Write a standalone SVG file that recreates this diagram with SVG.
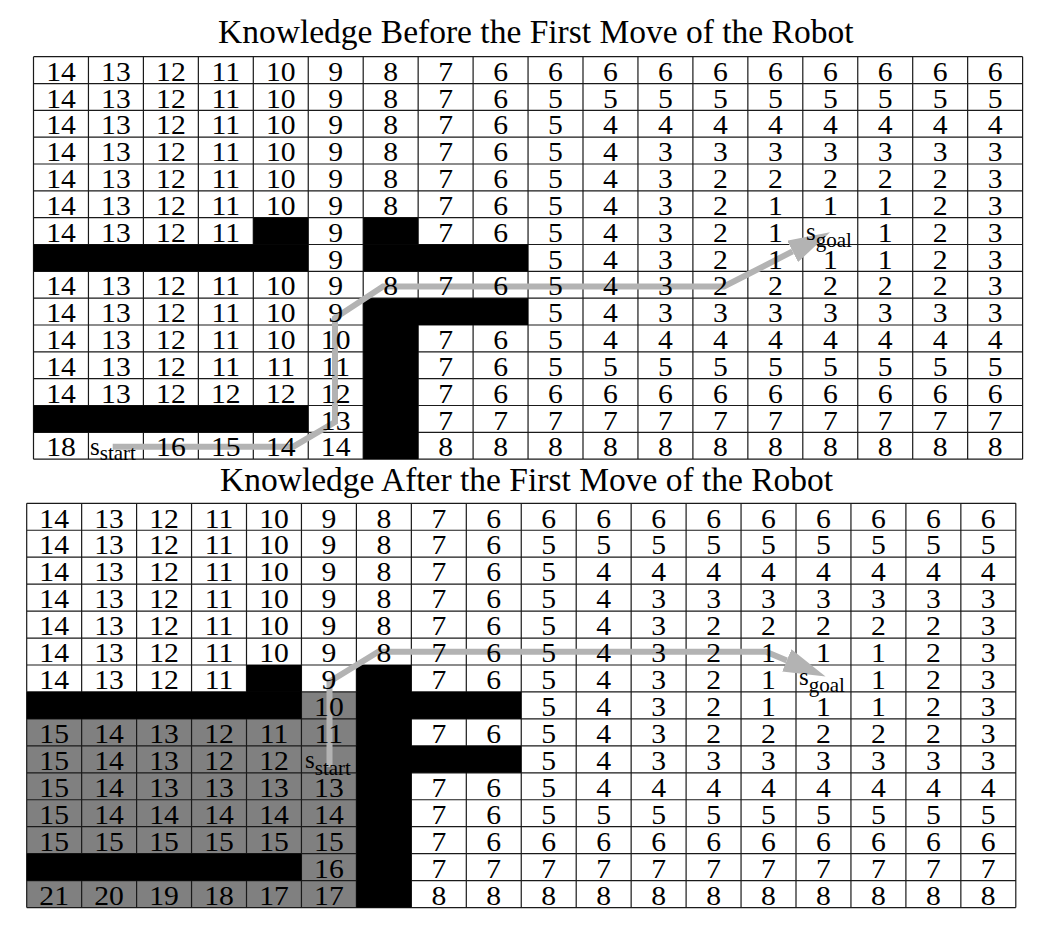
<svg xmlns="http://www.w3.org/2000/svg" width="1055" height="931" viewBox="0 0 1055 931">
<style>
.t{font-family:"Liberation Serif","Times New Roman",serif;font-size:33.5px;fill:#000}
.n{font-family:"Liberation Serif","Times New Roman",serif;font-size:26.5px;fill:#000;text-anchor:middle}
.s{font-family:"Liberation Serif","Times New Roman",serif;font-size:25px;fill:#000}
.sub{font-size:21px}
.gl{stroke:#1a1a1a;stroke-width:1.2;fill:none}
.blk{fill:#000}
.gry{fill:#808080}
.pth{stroke:#b3b3b3;stroke-width:6;fill:none;stroke-linejoin:miter}
</style>
<defs>
<marker id="ah" markerUnits="userSpaceOnUse" viewBox="0 0 42 24" markerWidth="42" markerHeight="24" refX="0" refY="12" orient="auto">
<path d="M0,0 L42,12 L0,24 Z" fill="#b3b3b3"/>
</marker>
</defs>
<rect x="0" y="0" width="1055" height="931" fill="#fff"/>
<g id="titles">
<text class="t" x="218" y="42.7">Knowledge Before the First Move of the Robot</text>
<text class="t" x="220" y="490.7">Knowledge After the First Move of the Robot</text>
</g>
<g id="grid-before">
<path class="gl" d="M33.5,56.7V459.15M88.45,56.7V459.15M143.4,56.7V459.15M198.35,56.7V459.15M253.3,56.7V459.15M308.25,56.7V459.15M363.2,56.7V459.15M418.15,56.7V459.15M473.1,56.7V459.15M528.05,56.7V459.15M583,56.7V459.15M637.95,56.7V459.15M692.9,56.7V459.15M747.85,56.7V459.15M802.8,56.7V459.15M857.75,56.7V459.15M912.7,56.7V459.15M967.65,56.7V459.15M1022.6,56.7V459.15M33.5,56.7H1022.6M33.5,83.53H1022.6M33.5,110.36H1022.6M33.5,137.19H1022.6M33.5,164.02H1022.6M33.5,190.85H1022.6M33.5,217.68H1022.6M33.5,244.51H1022.6M33.5,271.34H1022.6M33.5,298.17H1022.6M33.5,325H1022.6M33.5,351.83H1022.6M33.5,378.66H1022.6M33.5,405.49H1022.6M33.5,432.32H1022.6M33.5,459.15H1022.6"/>
<rect class="blk" x="253.3" y="217.68" width="54.95" height="26.83"/>
<rect class="blk" x="33.5" y="244.51" width="274.75" height="26.83"/>
<rect class="blk" x="363.2" y="217.68" width="54.95" height="26.83"/>
<rect class="blk" x="363.2" y="244.51" width="164.85" height="26.83"/>
<rect class="blk" x="363.2" y="298.17" width="164.85" height="26.83"/>
<rect class="blk" x="363.2" y="325" width="54.95" height="134.15"/>
<rect class="blk" x="33.5" y="405.49" width="274.75" height="26.83"/>
</g>
<g id="grid-after">
<rect class="gry" x="26.7" y="691.95" width="329.7" height="215.6"/>
<path class="gl" d="M26.7,503.3V907.55M81.65,503.3V907.55M136.6,503.3V907.55M191.55,503.3V907.55M246.5,503.3V907.55M301.45,503.3V907.55M356.4,503.3V907.55M411.35,503.3V907.55M466.3,503.3V907.55M521.25,503.3V907.55M576.2,503.3V907.55M631.15,503.3V907.55M686.1,503.3V907.55M741.05,503.3V907.55M796,503.3V907.55M850.95,503.3V907.55M905.9,503.3V907.55M960.85,503.3V907.55M1015.8,503.3V907.55M26.7,503.3H1015.8M26.7,530.25H1015.8M26.7,557.2H1015.8M26.7,584.15H1015.8M26.7,611.1H1015.8M26.7,638.05H1015.8M26.7,665H1015.8M26.7,691.95H1015.8M26.7,718.9H1015.8M26.7,745.85H1015.8M26.7,772.8H1015.8M26.7,799.75H1015.8M26.7,826.7H1015.8M26.7,853.65H1015.8M26.7,880.6H1015.8M26.7,907.55H1015.8"/>
<rect class="blk" x="246.5" y="665" width="54.95" height="26.95"/>
<rect class="blk" x="26.7" y="691.95" width="274.75" height="26.95"/>
<rect class="blk" x="356.4" y="665" width="54.95" height="242.55"/>
<rect class="blk" x="356.4" y="691.95" width="164.85" height="26.95"/>
<rect class="blk" x="356.4" y="745.85" width="164.85" height="26.95"/>
<rect class="blk" x="26.7" y="853.65" width="274.75" height="26.95"/>
</g>
<g id="connectors">
<path class="pth" d="M112.7,446.7H293.3L335,422V318L383,286.5H724L792.6,251.4" marker-end="url(#ah)"/>
<path class="pth" d="M329.5,767V681.7L378.3,651.7H766L786.8,660.4" marker-end="url(#ah)"/>
</g>
<g id="values-before">
<g transform="scale(1.12,1)">
<text class="n" y="80.8"><tspan x="54.46">14</tspan><tspan x="103.48">13</tspan><tspan x="152.59">12</tspan><tspan x="201.61">11</tspan><tspan x="250.71">10</tspan><tspan x="299.73">9</tspan><tspan x="348.84">8</tspan><tspan x="397.86">7</tspan><tspan x="446.96">6</tspan><tspan x="495.98">6</tspan><tspan x="545.09">6</tspan><tspan x="594.11">6</tspan><tspan x="643.21">6</tspan><tspan x="692.23">6</tspan><tspan x="741.34">6</tspan><tspan x="790.36">6</tspan><tspan x="839.46">6</tspan><tspan x="888.48">6</tspan></text>
<text class="n" y="107.7"><tspan x="54.46">14</tspan><tspan x="103.48">13</tspan><tspan x="152.59">12</tspan><tspan x="201.61">11</tspan><tspan x="250.71">10</tspan><tspan x="299.73">9</tspan><tspan x="348.84">8</tspan><tspan x="397.86">7</tspan><tspan x="446.96">6</tspan><tspan x="495.98">5</tspan><tspan x="545.09">5</tspan><tspan x="594.11">5</tspan><tspan x="643.21">5</tspan><tspan x="692.23">5</tspan><tspan x="741.34">5</tspan><tspan x="790.36">5</tspan><tspan x="839.46">5</tspan><tspan x="888.48">5</tspan></text>
<text class="n" y="134.5"><tspan x="54.46">14</tspan><tspan x="103.48">13</tspan><tspan x="152.59">12</tspan><tspan x="201.61">11</tspan><tspan x="250.71">10</tspan><tspan x="299.73">9</tspan><tspan x="348.84">8</tspan><tspan x="397.86">7</tspan><tspan x="446.96">6</tspan><tspan x="495.98">5</tspan><tspan x="545.09">4</tspan><tspan x="594.11">4</tspan><tspan x="643.21">4</tspan><tspan x="692.23">4</tspan><tspan x="741.34">4</tspan><tspan x="790.36">4</tspan><tspan x="839.46">4</tspan><tspan x="888.48">4</tspan></text>
<text class="n" y="161.3"><tspan x="54.46">14</tspan><tspan x="103.48">13</tspan><tspan x="152.59">12</tspan><tspan x="201.61">11</tspan><tspan x="250.71">10</tspan><tspan x="299.73">9</tspan><tspan x="348.84">8</tspan><tspan x="397.86">7</tspan><tspan x="446.96">6</tspan><tspan x="495.98">5</tspan><tspan x="545.09">4</tspan><tspan x="594.11">3</tspan><tspan x="643.21">3</tspan><tspan x="692.23">3</tspan><tspan x="741.34">3</tspan><tspan x="790.36">3</tspan><tspan x="839.46">3</tspan><tspan x="888.48">3</tspan></text>
<text class="n" y="188.2"><tspan x="54.46">14</tspan><tspan x="103.48">13</tspan><tspan x="152.59">12</tspan><tspan x="201.61">11</tspan><tspan x="250.71">10</tspan><tspan x="299.73">9</tspan><tspan x="348.84">8</tspan><tspan x="397.86">7</tspan><tspan x="446.96">6</tspan><tspan x="495.98">5</tspan><tspan x="545.09">4</tspan><tspan x="594.11">3</tspan><tspan x="643.21">2</tspan><tspan x="692.23">2</tspan><tspan x="741.34">2</tspan><tspan x="790.36">2</tspan><tspan x="839.46">2</tspan><tspan x="888.48">3</tspan></text>
<text class="n" y="215"><tspan x="54.46">14</tspan><tspan x="103.48">13</tspan><tspan x="152.59">12</tspan><tspan x="201.61">11</tspan><tspan x="250.71">10</tspan><tspan x="299.73">9</tspan><tspan x="348.84">8</tspan><tspan x="397.86">7</tspan><tspan x="446.96">6</tspan><tspan x="495.98">5</tspan><tspan x="545.09">4</tspan><tspan x="594.11">3</tspan><tspan x="643.21">2</tspan><tspan x="692.23">1</tspan><tspan x="741.34">1</tspan><tspan x="790.36">1</tspan><tspan x="839.46">2</tspan><tspan x="888.48">3</tspan></text>
<text class="n" y="241.8"><tspan x="54.46">14</tspan><tspan x="103.48">13</tspan><tspan x="152.59">12</tspan><tspan x="201.61">11</tspan><tspan x="299.73">9</tspan><tspan x="397.86">7</tspan><tspan x="446.96">6</tspan><tspan x="495.98">5</tspan><tspan x="545.09">4</tspan><tspan x="594.11">3</tspan><tspan x="643.21">2</tspan><tspan x="692.23">1</tspan><tspan x="790.36">1</tspan><tspan x="839.46">2</tspan><tspan x="888.48">3</tspan></text>
<text class="n" y="268.6"><tspan x="299.73">9</tspan><tspan x="495.98">5</tspan><tspan x="545.09">4</tspan><tspan x="594.11">3</tspan><tspan x="643.21">2</tspan><tspan x="692.23">1</tspan><tspan x="741.34">1</tspan><tspan x="790.36">1</tspan><tspan x="839.46">2</tspan><tspan x="888.48">3</tspan></text>
<text class="n" y="295.5"><tspan x="54.46">14</tspan><tspan x="103.48">13</tspan><tspan x="152.59">12</tspan><tspan x="201.61">11</tspan><tspan x="250.71">10</tspan><tspan x="299.73">9</tspan><tspan x="348.84">8</tspan><tspan x="397.86">7</tspan><tspan x="446.96">6</tspan><tspan x="495.98">5</tspan><tspan x="545.09">4</tspan><tspan x="594.11">3</tspan><tspan x="643.21">2</tspan><tspan x="692.23">2</tspan><tspan x="741.34">2</tspan><tspan x="790.36">2</tspan><tspan x="839.46">2</tspan><tspan x="888.48">3</tspan></text>
<text class="n" y="322.3"><tspan x="54.46">14</tspan><tspan x="103.48">13</tspan><tspan x="152.59">12</tspan><tspan x="201.61">11</tspan><tspan x="250.71">10</tspan><tspan x="299.73">9</tspan><tspan x="495.98">5</tspan><tspan x="545.09">4</tspan><tspan x="594.11">3</tspan><tspan x="643.21">3</tspan><tspan x="692.23">3</tspan><tspan x="741.34">3</tspan><tspan x="790.36">3</tspan><tspan x="839.46">3</tspan><tspan x="888.48">3</tspan></text>
<text class="n" y="349.1"><tspan x="54.46">14</tspan><tspan x="103.48">13</tspan><tspan x="152.59">12</tspan><tspan x="201.61">11</tspan><tspan x="250.71">10</tspan><tspan x="299.73">10</tspan><tspan x="397.86">7</tspan><tspan x="446.96">6</tspan><tspan x="495.98">5</tspan><tspan x="545.09">4</tspan><tspan x="594.11">4</tspan><tspan x="643.21">4</tspan><tspan x="692.23">4</tspan><tspan x="741.34">4</tspan><tspan x="790.36">4</tspan><tspan x="839.46">4</tspan><tspan x="888.48">4</tspan></text>
<text class="n" y="376"><tspan x="54.46">14</tspan><tspan x="103.48">13</tspan><tspan x="152.59">12</tspan><tspan x="201.61">11</tspan><tspan x="250.71">11</tspan><tspan x="299.73">11</tspan><tspan x="397.86">7</tspan><tspan x="446.96">6</tspan><tspan x="495.98">5</tspan><tspan x="545.09">5</tspan><tspan x="594.11">5</tspan><tspan x="643.21">5</tspan><tspan x="692.23">5</tspan><tspan x="741.34">5</tspan><tspan x="790.36">5</tspan><tspan x="839.46">5</tspan><tspan x="888.48">5</tspan></text>
<text class="n" y="402.8"><tspan x="54.46">14</tspan><tspan x="103.48">13</tspan><tspan x="152.59">12</tspan><tspan x="201.61">12</tspan><tspan x="250.71">12</tspan><tspan x="299.73">12</tspan><tspan x="397.86">7</tspan><tspan x="446.96">6</tspan><tspan x="495.98">6</tspan><tspan x="545.09">6</tspan><tspan x="594.11">6</tspan><tspan x="643.21">6</tspan><tspan x="692.23">6</tspan><tspan x="741.34">6</tspan><tspan x="790.36">6</tspan><tspan x="839.46">6</tspan><tspan x="888.48">6</tspan></text>
<text class="n" y="429.6"><tspan x="299.73">13</tspan><tspan x="397.86">7</tspan><tspan x="446.96">7</tspan><tspan x="495.98">7</tspan><tspan x="545.09">7</tspan><tspan x="594.11">7</tspan><tspan x="643.21">7</tspan><tspan x="692.23">7</tspan><tspan x="741.34">7</tspan><tspan x="790.36">7</tspan><tspan x="839.46">7</tspan><tspan x="888.48">7</tspan></text>
<text class="n" y="456.5"><tspan x="54.46">18</tspan><tspan x="152.59">16</tspan><tspan x="201.61">15</tspan><tspan x="250.71">14</tspan><tspan x="299.73">14</tspan><tspan x="397.86">8</tspan><tspan x="446.96">8</tspan><tspan x="495.98">8</tspan><tspan x="545.09">8</tspan><tspan x="594.11">8</tspan><tspan x="643.21">8</tspan><tspan x="692.23">8</tspan><tspan x="741.34">8</tspan><tspan x="790.36">8</tspan><tspan x="839.46">8</tspan><tspan x="888.48">8</tspan></text>
</g>
<text class="s" x="90" y="455">s<tspan class="sub" dy="5">start</tspan></text>
<text class="s" x="806" y="240">s<tspan class="sub" dy="6.5">goal</tspan></text>
</g>
<g id="values-after">
<g transform="scale(1.12,1)">
<text class="n" y="527.6"><tspan x="48.39">14</tspan><tspan x="97.41">13</tspan><tspan x="146.52">12</tspan><tspan x="195.54">11</tspan><tspan x="244.64">10</tspan><tspan x="293.66">9</tspan><tspan x="342.77">8</tspan><tspan x="391.79">7</tspan><tspan x="440.89">6</tspan><tspan x="489.91">6</tspan><tspan x="539.02">6</tspan><tspan x="588.04">6</tspan><tspan x="637.14">6</tspan><tspan x="686.16">6</tspan><tspan x="735.27">6</tspan><tspan x="784.29">6</tspan><tspan x="833.39">6</tspan><tspan x="882.41">6</tspan></text>
<text class="n" y="554.5"><tspan x="48.39">14</tspan><tspan x="97.41">13</tspan><tspan x="146.52">12</tspan><tspan x="195.54">11</tspan><tspan x="244.64">10</tspan><tspan x="293.66">9</tspan><tspan x="342.77">8</tspan><tspan x="391.79">7</tspan><tspan x="440.89">6</tspan><tspan x="489.91">5</tspan><tspan x="539.02">5</tspan><tspan x="588.04">5</tspan><tspan x="637.14">5</tspan><tspan x="686.16">5</tspan><tspan x="735.27">5</tspan><tspan x="784.29">5</tspan><tspan x="833.39">5</tspan><tspan x="882.41">5</tspan></text>
<text class="n" y="581.5"><tspan x="48.39">14</tspan><tspan x="97.41">13</tspan><tspan x="146.52">12</tspan><tspan x="195.54">11</tspan><tspan x="244.64">10</tspan><tspan x="293.66">9</tspan><tspan x="342.77">8</tspan><tspan x="391.79">7</tspan><tspan x="440.89">6</tspan><tspan x="489.91">5</tspan><tspan x="539.02">4</tspan><tspan x="588.04">4</tspan><tspan x="637.14">4</tspan><tspan x="686.16">4</tspan><tspan x="735.27">4</tspan><tspan x="784.29">4</tspan><tspan x="833.39">4</tspan><tspan x="882.41">4</tspan></text>
<text class="n" y="608.4"><tspan x="48.39">14</tspan><tspan x="97.41">13</tspan><tspan x="146.52">12</tspan><tspan x="195.54">11</tspan><tspan x="244.64">10</tspan><tspan x="293.66">9</tspan><tspan x="342.77">8</tspan><tspan x="391.79">7</tspan><tspan x="440.89">6</tspan><tspan x="489.91">5</tspan><tspan x="539.02">4</tspan><tspan x="588.04">3</tspan><tspan x="637.14">3</tspan><tspan x="686.16">3</tspan><tspan x="735.27">3</tspan><tspan x="784.29">3</tspan><tspan x="833.39">3</tspan><tspan x="882.41">3</tspan></text>
<text class="n" y="635.4"><tspan x="48.39">14</tspan><tspan x="97.41">13</tspan><tspan x="146.52">12</tspan><tspan x="195.54">11</tspan><tspan x="244.64">10</tspan><tspan x="293.66">9</tspan><tspan x="342.77">8</tspan><tspan x="391.79">7</tspan><tspan x="440.89">6</tspan><tspan x="489.91">5</tspan><tspan x="539.02">4</tspan><tspan x="588.04">3</tspan><tspan x="637.14">2</tspan><tspan x="686.16">2</tspan><tspan x="735.27">2</tspan><tspan x="784.29">2</tspan><tspan x="833.39">2</tspan><tspan x="882.41">3</tspan></text>
<text class="n" y="662.3"><tspan x="48.39">14</tspan><tspan x="97.41">13</tspan><tspan x="146.52">12</tspan><tspan x="195.54">11</tspan><tspan x="244.64">10</tspan><tspan x="293.66">9</tspan><tspan x="342.77">8</tspan><tspan x="391.79">7</tspan><tspan x="440.89">6</tspan><tspan x="489.91">5</tspan><tspan x="539.02">4</tspan><tspan x="588.04">3</tspan><tspan x="637.14">2</tspan><tspan x="686.16">1</tspan><tspan x="735.27">1</tspan><tspan x="784.29">1</tspan><tspan x="833.39">2</tspan><tspan x="882.41">3</tspan></text>
<text class="n" y="689.3"><tspan x="48.39">14</tspan><tspan x="97.41">13</tspan><tspan x="146.52">12</tspan><tspan x="195.54">11</tspan><tspan x="293.66">9</tspan><tspan x="391.79">7</tspan><tspan x="440.89">6</tspan><tspan x="489.91">5</tspan><tspan x="539.02">4</tspan><tspan x="588.04">3</tspan><tspan x="637.14">2</tspan><tspan x="686.16">1</tspan><tspan x="784.29">1</tspan><tspan x="833.39">2</tspan><tspan x="882.41">3</tspan></text>
<text class="n" y="716.2"><tspan x="293.66">10</tspan><tspan x="489.91">5</tspan><tspan x="539.02">4</tspan><tspan x="588.04">3</tspan><tspan x="637.14">2</tspan><tspan x="686.16">1</tspan><tspan x="735.27">1</tspan><tspan x="784.29">1</tspan><tspan x="833.39">2</tspan><tspan x="882.41">3</tspan></text>
<text class="n" y="743.2"><tspan x="48.39">15</tspan><tspan x="97.41">14</tspan><tspan x="146.52">13</tspan><tspan x="195.54">12</tspan><tspan x="244.64">11</tspan><tspan x="293.66">11</tspan><tspan x="391.79">7</tspan><tspan x="440.89">6</tspan><tspan x="489.91">5</tspan><tspan x="539.02">4</tspan><tspan x="588.04">3</tspan><tspan x="637.14">2</tspan><tspan x="686.16">2</tspan><tspan x="735.27">2</tspan><tspan x="784.29">2</tspan><tspan x="833.39">2</tspan><tspan x="882.41">3</tspan></text>
<text class="n" y="770.1"><tspan x="48.39">15</tspan><tspan x="97.41">14</tspan><tspan x="146.52">13</tspan><tspan x="195.54">12</tspan><tspan x="244.64">12</tspan><tspan x="489.91">5</tspan><tspan x="539.02">4</tspan><tspan x="588.04">3</tspan><tspan x="637.14">3</tspan><tspan x="686.16">3</tspan><tspan x="735.27">3</tspan><tspan x="784.29">3</tspan><tspan x="833.39">3</tspan><tspan x="882.41">3</tspan></text>
<text class="n" y="797.1"><tspan x="48.39">15</tspan><tspan x="97.41">14</tspan><tspan x="146.52">13</tspan><tspan x="195.54">13</tspan><tspan x="244.64">13</tspan><tspan x="293.66">13</tspan><tspan x="391.79">7</tspan><tspan x="440.89">6</tspan><tspan x="489.91">5</tspan><tspan x="539.02">4</tspan><tspan x="588.04">4</tspan><tspan x="637.14">4</tspan><tspan x="686.16">4</tspan><tspan x="735.27">4</tspan><tspan x="784.29">4</tspan><tspan x="833.39">4</tspan><tspan x="882.41">4</tspan></text>
<text class="n" y="824"><tspan x="48.39">15</tspan><tspan x="97.41">14</tspan><tspan x="146.52">14</tspan><tspan x="195.54">14</tspan><tspan x="244.64">14</tspan><tspan x="293.66">14</tspan><tspan x="391.79">7</tspan><tspan x="440.89">6</tspan><tspan x="489.91">5</tspan><tspan x="539.02">5</tspan><tspan x="588.04">5</tspan><tspan x="637.14">5</tspan><tspan x="686.16">5</tspan><tspan x="735.27">5</tspan><tspan x="784.29">5</tspan><tspan x="833.39">5</tspan><tspan x="882.41">5</tspan></text>
<text class="n" y="851"><tspan x="48.39">15</tspan><tspan x="97.41">15</tspan><tspan x="146.52">15</tspan><tspan x="195.54">15</tspan><tspan x="244.64">15</tspan><tspan x="293.66">15</tspan><tspan x="391.79">7</tspan><tspan x="440.89">6</tspan><tspan x="489.91">6</tspan><tspan x="539.02">6</tspan><tspan x="588.04">6</tspan><tspan x="637.14">6</tspan><tspan x="686.16">6</tspan><tspan x="735.27">6</tspan><tspan x="784.29">6</tspan><tspan x="833.39">6</tspan><tspan x="882.41">6</tspan></text>
<text class="n" y="877.9"><tspan x="293.66">16</tspan><tspan x="391.79">7</tspan><tspan x="440.89">7</tspan><tspan x="489.91">7</tspan><tspan x="539.02">7</tspan><tspan x="588.04">7</tspan><tspan x="637.14">7</tspan><tspan x="686.16">7</tspan><tspan x="735.27">7</tspan><tspan x="784.29">7</tspan><tspan x="833.39">7</tspan><tspan x="882.41">7</tspan></text>
<text class="n" y="904.9"><tspan x="48.39">21</tspan><tspan x="97.41">20</tspan><tspan x="146.52">19</tspan><tspan x="195.54">18</tspan><tspan x="244.64">17</tspan><tspan x="293.66">17</tspan><tspan x="391.79">8</tspan><tspan x="440.89">8</tspan><tspan x="489.91">8</tspan><tspan x="539.02">8</tspan><tspan x="588.04">8</tspan><tspan x="637.14">8</tspan><tspan x="686.16">8</tspan><tspan x="735.27">8</tspan><tspan x="784.29">8</tspan><tspan x="833.39">8</tspan><tspan x="882.41">8</tspan></text>
</g>
<text class="s" x="305" y="768">s<tspan class="sub" dy="7">start</tspan></text>
<text class="s" x="799" y="685">s<tspan class="sub" dy="6.7">goal</tspan></text>
</g>
</svg>
